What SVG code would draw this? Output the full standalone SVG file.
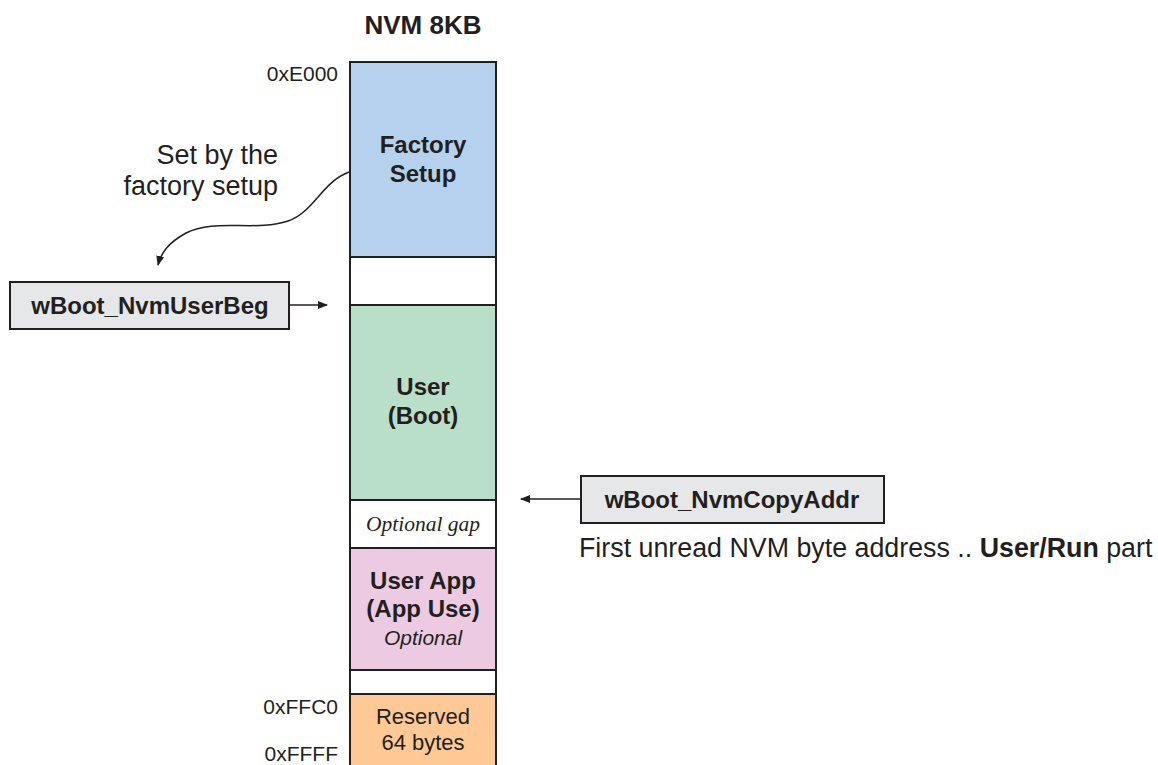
<svg xmlns="http://www.w3.org/2000/svg" width="1158" height="765" viewBox="0 0 1158 765">
<style>
text{font-family:"Liberation Sans",Arial,sans-serif;fill:#231f20}
.b{font-weight:bold;font-size:24px}
.blk{stroke:#231f20;stroke-width:2}
.addr{font-size:21px}
.ln{stroke:#231f20;stroke-width:1.5;fill:none}
.box{fill:#e6e7e8;stroke:#231f20;stroke-width:2}
</style>
<defs>
<marker id="ah" viewBox="0 0 10 10" refX="9" refY="5" markerWidth="10" markerHeight="10" markerUnits="userSpaceOnUse" orient="auto"><path d="M0,1 L10,5 L0,9 Z" fill="#231f20"/></marker>
</defs>
<rect width="1158" height="765" fill="#fff"/>
<text x="423" y="34" text-anchor="middle" style="font-weight:bold;font-size:26px">NVM 8KB</text>
<g id="factory"><rect x="350" y="62" width="146" height="195" fill="#b6d1ee" class="blk"/><text x="423" y="153" class="b" text-anchor="middle">Factory</text><text x="423" y="182" class="b" text-anchor="middle">Setup</text></g>
<g id="gap1"><rect x="350" y="257" width="146" height="48" fill="#fff" class="blk"/></g>
<g id="user"><rect x="350" y="305" width="146" height="195" fill="#badfc8" class="blk"/><text x="423" y="395" class="b" text-anchor="middle">User</text><text x="423" y="424" class="b" text-anchor="middle">(Boot)</text></g>
<g id="optgap"><rect x="350" y="500" width="146" height="48" fill="#fff" class="blk"/><text x="423" y="531" text-anchor="middle" style="font-family:'Liberation Serif','Times New Roman',serif;font-style:italic;font-size:21.5px">Optional gap</text></g>
<g id="userapp"><rect x="350" y="548" width="146" height="122" fill="#eccbe2" class="blk"/><text x="423" y="589" class="b" text-anchor="middle">User App</text><text x="423" y="617" class="b" text-anchor="middle">(App Use)</text><text x="423" y="645" text-anchor="middle" style="font-style:italic;font-size:21px">Optional</text></g>
<g id="gap2"><rect x="350" y="670" width="146" height="24" fill="#fff" class="blk"/></g>
<g id="reserved"><rect x="350" y="694" width="146" height="80" fill="#fec995" class="blk"/><text x="423" y="724" text-anchor="middle" style="font-size:22px">Reserved</text><text x="423" y="750" text-anchor="middle" style="font-size:22px">64 bytes</text></g>
<text x="338" y="81" class="addr" text-anchor="end">0xE000</text>
<text x="338" y="714" class="addr" text-anchor="end">0xFFC0</text>
<text x="338" y="761" class="addr" text-anchor="end">0xFFFF</text>
<g id="note1"><text x="278" y="164" text-anchor="end" style="font-size:27px">Set by the</text><text x="278" y="195" text-anchor="end" style="font-size:27px">factory setup</text></g>
<g id="userbeg"><rect x="10" y="282" width="279" height="47" class="box"/><text x="150" y="314" class="b" text-anchor="middle">wBoot_NvmUserBeg</text></g>
<g id="copyaddr"><rect x="581" y="476" width="303" height="47" class="box"/><text x="732" y="508" class="b" text-anchor="middle">wBoot_NvmCopyAddr</text></g>
<text x="579" y="557" style="font-size:26.8px">First unread NVM byte address .. <tspan font-weight="bold">User/Run</tspan> part</text>
<g id="connectors">
<path class="ln" d="M349,172 C322,182 314,212 288,221 C255,232 215,218 186,233 C168,243 161,253 158,265" marker-end="url(#ah)"/>
<line class="ln" x1="289" y1="305" x2="327" y2="305" marker-end="url(#ah)"/>
<line class="ln" x1="581" y1="499" x2="521" y2="499" marker-end="url(#ah)"/>
</g>
</svg>
